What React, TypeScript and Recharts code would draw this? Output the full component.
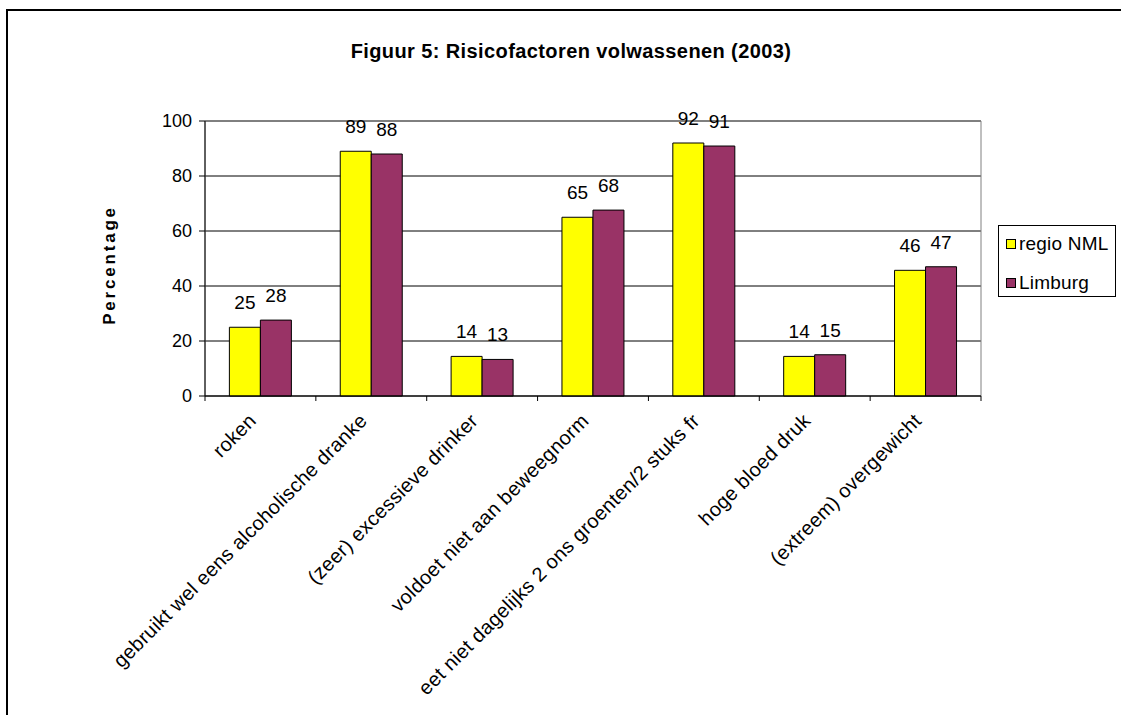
import { BarChart, Bar, XAxis, YAxis, CartesianGrid, LabelList, ReferenceArea } from 'recharts';

// categorie-labels zoals ze in de figuur staan (afgekapt door Excel)
const categories = [
  'roken',
  'gebruikt wel eens alcoholische dranke',
  '(zeer) excessieve drinker',
  'voldoet niet aan beweegnorm',
  'eet niet dagelijks 2 ons groenten/2 stuks fr',
  'hoge bloed druk',
  '(extreem) overgewicht',
];

const regioNML = [25, 89, 14.4, 65, 92, 14.4, 45.7];
const limburg = [27.6, 88, 13.3, 67.6, 90.9, 15, 47];

const seriesNames = ['regio NML', 'Limburg'];
const seriesColors = ['#FFFF00', '#993366'];

const yTicks = [0, 20, 40, 60, 80, 100];

const title = 'Figuur 5: Risicofactoren volwassenen (2003)';
const yLabel = 'Percentage';

const data = categories.map((name, i) => ({
  name,
  regio: regioNML[i],
  limburg: limburg[i],
}));

const FONT = '"Liberation Sans", Arial, sans-serif';

function CategoryTick(props: any) {
  const { x, y, payload, width, visibleTicksCount, index } = props;
  const band = width && visibleTicksCount ? width / visibleTicksCount : 0;
  const tx = x - 3;
  const ty = y + 26;
  return (
    <g>
      <line x1={x - band / 2} y1={y} x2={x - band / 2} y2={y + 5} stroke="#000" />
      {index === visibleTicksCount - 1 && (
        <line x1={x + band / 2} y1={y} x2={x + band / 2} y2={y + 5} stroke="#000" />
      )}
      <text
        x={tx}
        y={ty}
        transform={`rotate(-45 ${tx} ${ty})`}
        textAnchor="end"
        fontSize={20}
        letterSpacing={0.3}
        fill="#000"
      >
        {payload.value}
      </text>
    </g>
  );
}

export default function App() {
  return (
    <div
      style={{
        position: 'fixed',
        left: 0,
        top: 0,
        width: 1121,
        height: 715,
        overflow: 'hidden',
        background: '#fff',
        fontFamily: FONT,
      }}
    >
      <div
        style={{
          position: 'absolute',
          left: 6,
          top: 9,
          width: 1200,
          height: 800,
          border: '2px solid #000',
        }}
      />
      <div style={{ position: 'absolute', left: 0, top: 0 }}>
        <BarChart
          width={1121}
          height={715}
          data={data}
          margin={{ top: 121, right: 140, left: 145, bottom: 19 }}
          barCategoryGap="22%"
          barGap={0}
        >
          <CartesianGrid vertical={false} stroke="#000" />
          <ReferenceArea y1={0} y2={100} fill="none" stroke="#808080" />
          <XAxis
            dataKey="name"
            interval={0}
            height={300}
            tickLine={false}
            tickSize={0}
            tickMargin={0}
            axisLine={{ stroke: '#000' }}
            tick={<CategoryTick />}
          />
          <YAxis
            width={60}
            domain={[0, 100]}
            ticks={yTicks}
            tickSize={6}
            tickMargin={7}
            axisLine={{ stroke: '#000' }}
            tickLine={{ stroke: '#000' }}
            tick={{ fill: '#000', fontSize: 18 }}
          />
          <Bar dataKey="regio" name={seriesNames[0]} fill={seriesColors[0]} stroke="#000" isAnimationActive={false}>
            <LabelList
              dataKey="regio"
              position="top"
              offset={18}
              fill="#000"
              fontSize={19}
              formatter={(v: any) => Math.round(Number(v))}
            />
          </Bar>
          <Bar dataKey="limburg" name={seriesNames[1]} fill={seriesColors[1]} stroke="#000" isAnimationActive={false}>
            <LabelList
              dataKey="limburg"
              position="top"
              offset={18}
              fill="#000"
              fontSize={19}
              formatter={(v: any) => Math.round(Number(v))}
            />
          </Bar>
        </BarChart>
      </div>
      <svg
        width={1121}
        height={715}
        style={{ position: 'absolute', left: 0, top: 0, pointerEvents: 'none' }}
      >
        <text x={571} y={58} textAnchor="middle" fontWeight="bold" fontSize={20} letterSpacing={0.4} fill="#000">
          {title}
        </text>
        <text transform="translate(115 265) rotate(-90)" textAnchor="middle" fontWeight="bold" fontSize={17} letterSpacing={2.8} fill="#000">
          {yLabel}
        </text>
        <rect x={998.5} y={225.5} width={117} height={71} fill="#fff" stroke="#000" />
        {seriesNames.map((name, i) => (
          <g key={name}>
            <rect x={1006.5} y={239.5 + i * 39} width={9} height={9} fill={seriesColors[i]} stroke="#000" />
            <text x={1019} y={250 + i * 39} fontSize={19} letterSpacing={0.2} fill="#000">
              {name}
            </text>
          </g>
        ))}
      </svg>
    </div>
  );
}
